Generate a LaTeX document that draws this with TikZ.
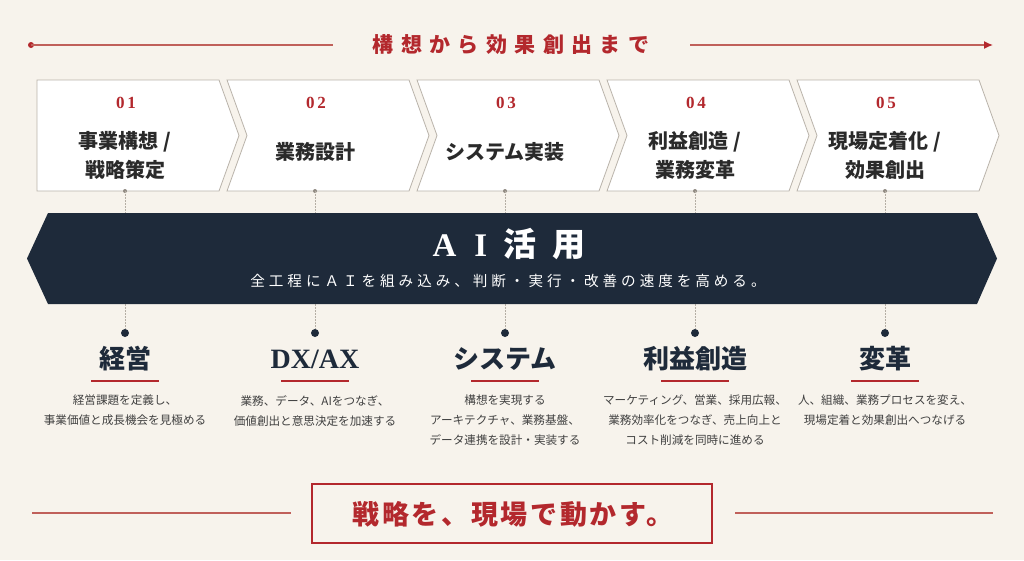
\documentclass[tikz,border=0pt]{standalone}
\usepackage{fontspec}
\usetikzlibrary{arrows.meta}
\setmainfont{Liberation Serif}
\newfontfamily\jp{Noto Sans CJK JP}
\newfontfamily\jptitle{Noto Sans CJK JP}[LetterSpace=35]
\newfontfamily\jpsub{Noto Sans CJK JP}[LetterSpace=27]
\newfontfamily\jpfoot{Noto Sans CJK JP}[LetterSpace=10]
\newfontfamily\numfont{Liberation Serif}[LetterSpace=15]
\definecolor{bg}{HTML}{F7F3EC}
\definecolor{accent}{HTML}{B3282D}
\definecolor{redline}{HTML}{C0605A}
\definecolor{navy}{HTML}{1E2A3A}
\definecolor{ink}{HTML}{2A2A2A}
\definecolor{boxline}{HTML}{B9B3AA}
\definecolor{dotgray}{HTML}{B5AEA4}
\definecolor{desc}{HTML}{404040}
\tikzset{
  boxshape/.style={draw=boxline, fill=white, line width=0.8},
  numtext/.style={font=\numfont\bfseries\fontsize{17}{17}\selectfont, text=accent, inner sep=0},
  boxtext/.style={font=\jp\bfseries\fontsize{20}{29}\selectfont, text=ink, align=center, inner sep=0},
  dotline/.style={draw=dotgray, line width=0.8, dash pattern=on 1.5pt off 1.5pt},
  headtext/.style={font=\bfseries\fontsize{26}{26}\selectfont, text=navy, inner sep=0},
  desctext/.style={font=\jp\fontsize{11.6}{20}\selectfont, text=desc, align=center, inner sep=0, anchor=north},
  navydot/.style={circle, fill=navy, minimum size=8, inner sep=0},
}
\begin{document}
\begin{tikzpicture}[x=1pt,y=-1pt]
\fill[bg] (0,0) rectangle (1024,560);
\useasboundingbox (0,0) rectangle (1024,560);

% ---- top title line
\node[font=\jptitle\bfseries\fontsize{21}{21}\selectfont, text=accent, inner sep=0] (title) at (511,45) {構想から効果創出まで};
\coordinate (tl) at (31,45);
\coordinate (tlend) at (333,45);
\coordinate (trstart) at (690,45);
\coordinate (tr) at (993,45);
\fill[accent] (tl) circle (3);
\draw[redline, line width=1.4] (tl) -- (tlend);
\draw[redline, line width=1.4, -{Latex[length=9,width=8,color=accent]}] (trstart) -- (tr);

% ---- chevron boxes
\foreach \i/\num/\yy/\txt in {
  1/01/155.5/{事業構想 /\\戦略策定},
  2/02/152/{業務設計},
  3/03/152/{システム実装},
  4/04/155.5/{利益創造 /\\業務変革},
  5/05/155.5/{現場定着化 /\\効果創出}}{
  \pgfmathsetmacro\L{37+190*(\i-1)}
  \pgfmathsetmacro\cx{125+190*(\i-1)}
  \ifnum\i=1
    \draw[boxshape] (\L,80) -- (\L+182,80) -- (\L+202,135.5) -- (\L+182,191) -- (\L,191) -- cycle;
  \else
    \draw[boxshape] (\L,80) -- (\L+182,80) -- (\L+202,135.5) -- (\L+182,191) -- (\L,191) -- (\L+20,135.5) -- cycle;
  \fi
  \node[numtext] (num\i) at (\cx+1,103) {\num};
  \node[boxtext] (lbl\i) at (\cx,\yy) {\txt};
  \coordinate (bot\i) at (\cx,191);
  \coordinate (bt\i) at (\cx,213);
  \coordinate (bb\i) at (\cx,304);
  \node[navydot] (dot\i) at (\cx,333) {};
  \fill[dotgray!80!black] (bot\i) circle (2);
  \draw[dotline] (bot\i) -- (bt\i);
  \draw[dotline] (bb\i) -- (dot\i);
}

% ---- banner
\fill[navy] (48,213) -- (977,213) -- (997,258.5) -- (977,304) -- (48,304) -- (27,258.5) -- cycle;
\node[text=white, inner sep=0, font=\bfseries\fontsize{33}{33}\selectfont] (ai) at (509,244)
  {A\hspace{18pt}I\hspace{16pt}{\jp 活\hspace{16pt}用}};
\node[text=white, inner sep=0, font=\jpsub\fontsize{14.6}{14.6}\selectfont] (aisub) at (508,281)
  {全工程にＡＩを組み込み、判断・実行・改善の速度を高める。};

% ---- lower columns
\foreach \i/\head/\desc in {
  1/{\jp 経営}/{経営課題を定義し、\\事業価値と成長機会を見極める},
  2/{\fontsize{28}{28}\selectfont DX/AX}/{業務、データ、AIをつなぎ、\\価値創出と意思決定を加速する},
  3/{\jp システム}/{構想を実現する\\アーキテクチャ、業務基盤、\\データ連携を設計・実装する},
  4/{\jp 利益創造}/{マーケティング、営業、採用広報、\\業務効率化をつなぎ、売上向上と\\コスト削減を同時に進める},
  5/{\jp 変革}/{人、組織、業務プロセスを変え、\\現場定着と効果創出へつなげる}}{
  \pgfmathsetmacro\cx{125+190*(\i-1)}
  \node[headtext] (head\i) at (\cx,359) {\head};
  \coordinate (ula\i) at (\cx-34,381);
  \coordinate (ulb\i) at (\cx+34,381);
  \draw[accent, line width=2] (ula\i) -- (ulb\i);
  \node[desctext] (desc\i) at (\cx,395) {\desc};
}

% ---- footer
\node[draw=accent, line width=1.3, fill=bg, minimum width=400, minimum height=59, inner sep=0] (footbox) at (512,513.5) {};
\node[text=accent, inner sep=0, font=\jpfoot\bfseries\fontsize{27}{27}\selectfont] (foot) at (513,514) {戦略を、現場で動かす。};
\coordinate (fla) at (32,513);
\coordinate (flb) at (291,513);
\coordinate (fra) at (735,513);
\coordinate (frb) at (993,513);
\draw[redline, line width=1.2] (fla) -- (flb);
\draw[redline, line width=1.2] (fra) -- (frb);
\end{tikzpicture}
\end{document}
